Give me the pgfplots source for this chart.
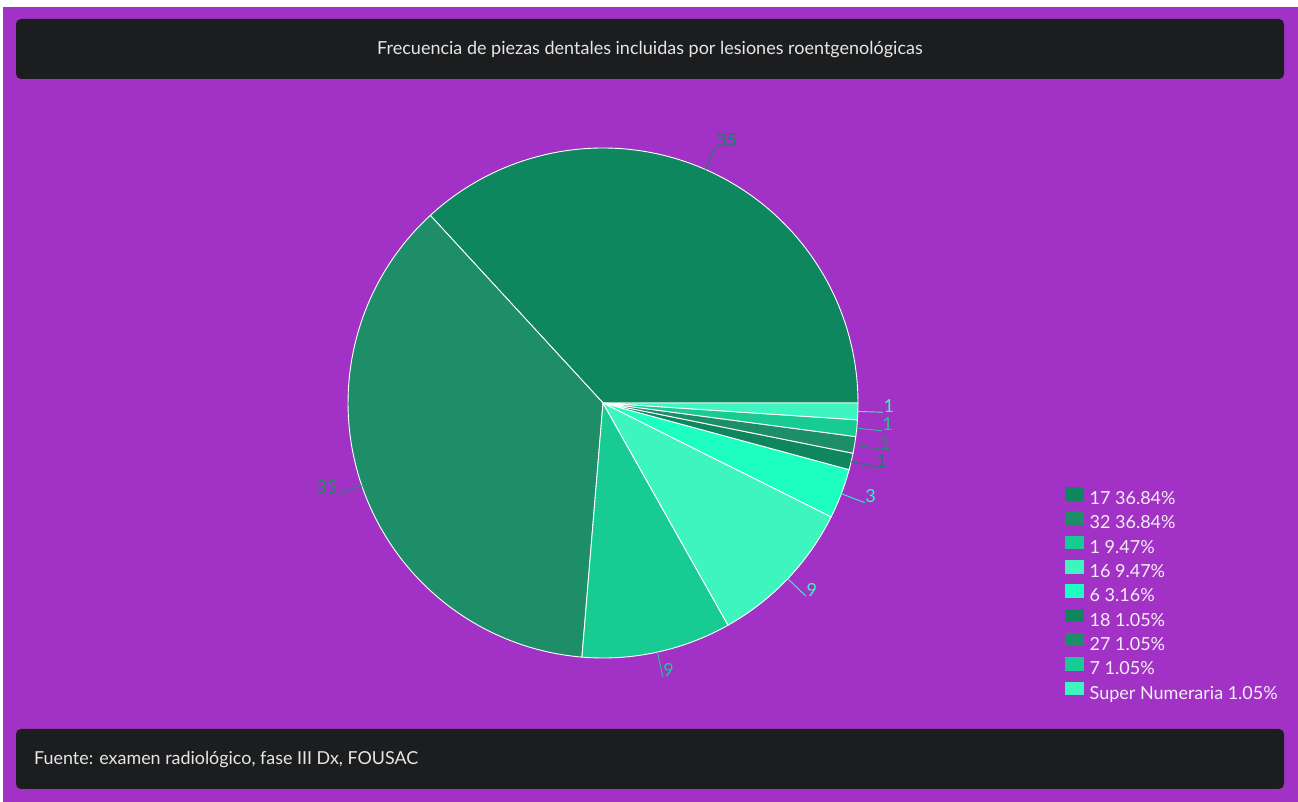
\documentclass[border=0pt]{standalone}
\usepackage{fontspec}
\setmainfont{Lato}
\usepackage{pgfplots}
\usepackage{pgfplotstable}
\pgfplotsset{compat=1.18}

\definecolor{bgpurple}{HTML}{A232C6}
\definecolor{barbg}{HTML}{1C1D1F}
\definecolor{txtlight}{HTML}{E6E6E6}
\definecolor{legtxt}{HTML}{F6EEF6}
\definecolor{c0}{HTML}{0E865E}
\definecolor{c1}{HTML}{1E8E68}
\definecolor{c2}{HTML}{17CB92}
\definecolor{c3}{HTML}{3EF5C0}
\definecolor{c4}{HTML}{1CFFC0}
\definecolor{c5}{HTML}{0E865E}
\definecolor{c6}{HTML}{1E8E68}
\definecolor{c7}{HTML}{17CB92}
\definecolor{c8}{HTML}{3EF5C0}

\pgfplotstableread[col sep=comma]{
label,value
17,35
32,35
1,9
16,9
6,3
18,1
27,1
7,1
Super Numeraria,1
}\datatable

\begin{document}
\begin{tikzpicture}[x=1bp,y=1bp]
\path[use as bounding box] (0,0) rectangle (1298,802);
% page background
\fill[white] (0,0) rectangle (1298,802);
\fill[bgpurple] (3,0) rectangle (1298,795);
% header and footer panels
\fill[barbg, rounded corners=5bp] (16,723) rectangle (1284,783);
\fill[barbg, rounded corners=5bp] (16,13) rectangle (1284,73);
\node[text=txtlight, font=\fontsize{18bp}{21bp}\selectfont] at (650,752)
  {Frecuencia de piezas dentales incluidas por lesiones roentgenológicas};
\node[text=txtlight, font=\fontsize{17.9bp}{21bp}\selectfont, anchor=west, inner sep=0pt] at (34,42)
  {Fuente: examen radiológico, fase III Dx, FOUSAC};

% totals
\pgfplotstablegetrowsof{\datatable}
\pgfmathtruncatemacro\lastrow{\pgfplotsretval-1}
\def\total{0}
\pgfplotsforeachungrouped \i in {0,...,\lastrow}{%
  \pgfplotstablegetelem{\i}{value}\of\datatable
  \pgfmathsetmacro\total{\total+\pgfplotsretval}%
}

\begin{axis}[
  at={(0,0)}, anchor=south west,
  width=1298bp, height=802bp, scale only axis,
  xmin=0, xmax=1298, ymin=0, ymax=802,
  axis lines=none, clip=false,
  legend cell align=left,
  legend style={at={(axis cs:1065,315)}, anchor=north west, draw=none, fill=none,
    font=\fontsize{18bp}{21bp}\selectfont, text=legtxt,
    row sep=3.3bp, inner sep=0pt,
    nodes={inner sep=0pt, text height=13.5bp, text depth=3.5bp}},
  legend image code/.code={\path[#1, draw=none] (0bp,-1bp) rectangle (18.5bp,12.5bp);
    \path (24bp,0bp);},
]
\def\cum{0}
\pgfplotsforeachungrouped \i in {0,...,\lastrow}{%
  \pgfplotstablegetelem{\i}{value}\of\datatable
  \let\val=\pgfplotsretval
  \pgfmathsetmacro\a{360*(\cum/\total)}%
  \pgfmathsetmacro\cum{\cum+\val}%
  \pgfmathsetmacro\b{360*(\cum/\total)}%
  \pgfmathsetmacro\m{(\a+\b)/2}%
  \pgfmathsetmacro\xa{603+255*cos(\m)}%
  \pgfmathsetmacro\ya{399+255*sin(\m)}%
  \pgfmathsetmacro\xb{603+280*cos(\m)}%
  \pgfmathsetmacro\yb{399+280*sin(\m)}%
  \pgfmathtruncatemacro\rightside{cos(\m)>=0}%
  \ifnum\rightside=1 \def\anc{base west}\else\def\anc{base east}\fi
  \edef\temp{%
    \noexpand\addplot[fill=c\i, draw=white, line width=0.9bp, domain=\a:\b, samples=90,
      variable=\noexpand\t]
      ({603+255*cos(\noexpand\t)}, {399+255*sin(\noexpand\t)}) -- (axis cs:603,399) -- cycle;
    \noexpand\draw[c\i, line width=0.9bp] (axis cs:\xa,\ya) -- (axis cs:\xb,\yb);
    \noexpand\node[text=c\i, anchor=\anc, inner sep=0.5bp,
      font=\noexpand\fontsize{18bp}{20bp}\noexpand\selectfont] at (axis cs:\xb,\yb) {\val};
  }%
  \temp
}
\legend{17 36.84\%, 32 36.84\%, 1 9.47\%, 16 9.47\%, 6 3.16\%, 18 1.05\%, 27 1.05\%, 7 1.05\%, Super Numeraria 1.05\%}
\end{axis}
\end{tikzpicture}
\end{document}
